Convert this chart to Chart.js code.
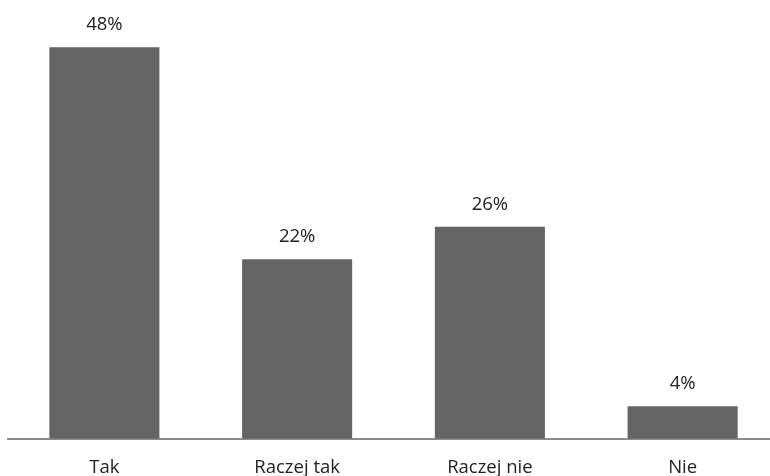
<!DOCTYPE html>
<html>
<head>
<meta charset="utf-8">
<script src="https://cdn.jsdelivr.net/npm/chart.js@4.4.0/dist/chart.umd.min.js"></script>
<style>
  html, body { margin: 0; padding: 0; background: #fff; overflow: hidden; }
  #wrap { width: 779px; height: 496px; }
</style>
</head>
<body>
<div id="wrap"><canvas id="myChart"></canvas></div>
<script>
const categories = ["Tak", "Raczej tak", "Raczej nie", "Nie"];
const values = [48, 22, 26, 4];
const valueLabels = ["48%", "22%", "26%", "4%"];

const barColor = "#646464";
const textColor = "#222222";

// labels above the bars
const barLabels = {
    id: "barLabels",
    afterDatasetsDraw(chart) {
        const ctx = chart.ctx;
        const meta = chart.getDatasetMeta(0);
        ctx.save();
        ctx.font = "18.5px 'Open Sans'";
        ctx.fillStyle = textColor;
        ctx.textAlign = "center";
        ctx.textBaseline = "alphabetic";
        meta.data.forEach((bar, i) => {
            ctx.fillText(valueLabels[i], bar.x, bar.y - 17);
        });
        ctx.restore();
    }
};

const ctx = document.getElementById("myChart").getContext("2d");
const myChart = new Chart(ctx, {
    type: "bar",
    data: {
        labels: categories,
        datasets: [{
            data: values,
            backgroundColor: barColor,
            borderWidth: 0,
            categoryPercentage: 1,
            barPercentage: 0.571
        }]
    },
    options: {
        responsive: true,
        maintainAspectRatio: false,
        animation: false,
        layout: {
            padding: { left: 8, right: 0, top: 31, bottom: 0 }
        },
        plugins: {
            legend: { display: false },
            tooltip: { enabled: false }
        },
        scales: {
            x: {
                grid: { display: false, drawTicks: false },
                border: { display: true, color: "#8c8c8c", width: 2 },
                ticks: {
                    color: textColor,
                    font: { family: "'Open Sans'", size: 18.5 },
                    padding: 17.5
                }
            },
            y: {
                display: false,
                min: 0,
                max: 50
            }
        }
    },
    plugins: [barLabels]
});
</script>
</body>
</html>
